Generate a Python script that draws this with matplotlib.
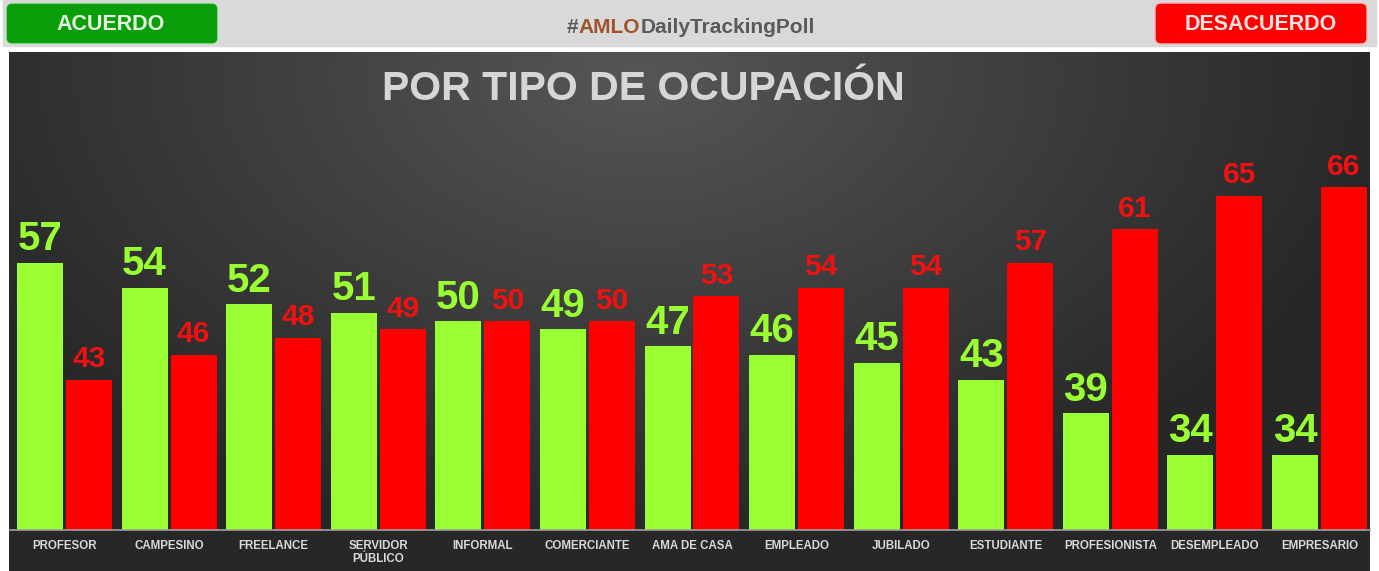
import numpy as np
import matplotlib
matplotlib.use("Agg")
import matplotlib.pyplot as plt
from matplotlib.patches import Rectangle, FancyBboxPatch

# occupations, % agree (green) / % disagree (red)
categorias = ["PROFESOR", "CAMPESINO", "FREELANCE", "SERVIDOR\nPÚBLICO", "INFORMAL",
              "COMERCIANTE", "AMA DE CASA", "EMPLEADO", "JUBILADO", "ESTUDIANTE",
              "PROFESIONISTA", "DESEMPLEADO", "EMPRESARIO"]
acuerdo = [57, 54, 52, 51, 50, 49, 47, 46, 45, 43, 39, 34, 34]
desacuerdo = [43, 46, 48, 49, 50, 50, 53, 54, 54, 57, 61, 65, 66]

VERDE = "#99ff33"
ROJO = "#ff0000"
W, H = 1379, 571
SANS = ["Liberation Sans", "DejaVu Sans"]

fig = plt.figure(figsize=(W / 100, H / 100), dpi=100)
fig.patch.set_facecolor("white")

# full-figure canvas in pixel units for header + background
canvas = fig.add_axes([0, 0, 1, 1], zorder=0)
canvas.axis("off")

# radial-ish gradient behind the chart
yy, xx = np.mgrid[52:H, 9:1370]
r = np.sqrt(((xx - 640) / 760.0) ** 2 + ((yy - 75) / 470.0) ** 2)
shade = 0x56 - (0x56 - 0x27) * np.clip(r, 0, 1)
img = np.dstack([shade, shade, shade]) / 255.0
canvas.imshow(img, extent=(9, 1370, H, 52), aspect="auto", zorder=0)
canvas.set_xlim(0, W)
canvas.set_ylim(H, 0)

# header strip
canvas.add_patch(Rectangle((3, 0), 1373, 46, color="#d9d9d9", zorder=1))
canvas.add_patch(FancyBboxPatch((6, 3), 212, 41, boxstyle="round,pad=0,rounding_size=6",
                                fc="#0a9e0a", ec="#bfe3bf", lw=1, zorder=2))
canvas.add_patch(FancyBboxPatch((1155, 3), 212, 41, boxstyle="round,pad=0,rounding_size=6",
                                fc="#ff0000", ec="#f5bcbc", lw=1, zorder=2))
canvas.text(111, 24, "ACUERDO", color="#e6f5e0", fontsize=15.5, fontweight="bold",
            family=SANS, ha="center", va="center", zorder=3)
canvas.text(1261, 24, "DESACUERDO", color="#fbe3e3", fontsize=15.5, fontweight="bold",
            family=SANS, ha="center", va="center", zorder=3)

# hashtag in three colours, chained pieces
hfont = dict(fontsize=15, fontweight="bold", family=SANS)
t1 = canvas.text(567, 33, "#", color="#5a5a5a", ha="left", va="baseline", zorder=3, **hfont)
t2 = canvas.annotate("AMLO", xy=(1, 0), xycoords=t1, color="#a0522d", ha="left",
                     va="bottom", zorder=3, **hfont)
canvas.annotate("DailyTrackingPoll", xy=(1, 0), xycoords=t2, color="#5a5a5a", ha="left",
                va="bottom", zorder=3, **hfont)

# title
fig.text(643 / W, 1 - 100 / H, "POR TIPO DE OCUPACIÓN", color="#d6d6d6", fontsize=29.5,
         fontweight="bold", family=SANS, ha="center", va="baseline")

# main bar axes
ax = fig.add_axes([10 / W, 41 / H, 1360 / W, 478 / H], zorder=2)
ax.set_facecolor("none")
x = np.arange(len(categorias))
ancho = 0.44
off = 0.234
bv = ax.bar(x - off, acuerdo, ancho, color=VERDE, zorder=2)
br = ax.bar(x + off, desacuerdo, ancho, color=ROJO, zorder=2)

ax.set_xlim(-0.521, 12.483)
ax.set_ylim(25, 82.2)

for rect, v in zip(bv, acuerdo):
    ax.annotate(str(v), (rect.get_x() + rect.get_width() / 2, v), xytext=(0, 9),
                textcoords="offset points", ha="center", va="baseline", color=VERDE,
                fontsize=29, fontweight="bold", family=SANS)
for rect, v in zip(br, desacuerdo):
    ax.annotate(str(v), (rect.get_x() + rect.get_width() / 2, v), xytext=(0, 9),
                textcoords="offset points", ha="center", va="baseline", color="#f21111",
                fontsize=21.5, fontweight="bold", family=SANS)

for s in ["top", "left", "right"]:
    ax.spines[s].set_visible(False)
ax.spines["bottom"].set_color("#a0a0a0")
ax.spines["bottom"].set_linewidth(1.2)
ax.set_yticks([])
ax.set_xticks(x)
ax.set_xticklabels(categorias, color="#d9d9d9", fontsize=8.3, fontweight="bold",
                   family=SANS, linespacing=1.1)
ax.tick_params(axis="x", length=0, pad=7)

fig.savefig("out.png", dpi=100)
